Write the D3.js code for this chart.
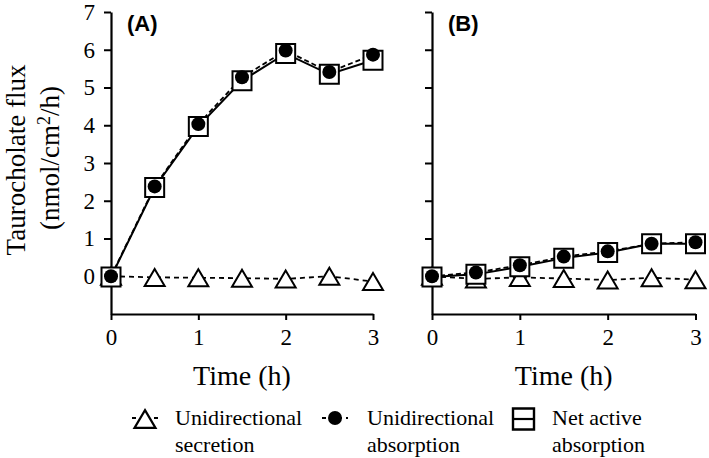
<!DOCTYPE html>
<html><head><meta charset="utf-8">
<script src="https://cdn.jsdelivr.net/npm/d3@7"></script>
<style>body{margin:0;background:#fff}svg{display:block}</style>
</head><body>
<script>
const time = [0, 0.5, 1, 1.5, 2, 2.5, 3];
const secretionA = [0, -0.03, -0.04, -0.05, -0.07, 0.0, -0.14];
const absorptionA = [0, 2.38, 4.03, 5.27, 5.98, 5.41, 5.87];
const netA = [-0.02, 2.35, 3.97, 5.18, 5.9, 5.35, 5.72];
const secretionB = [0, -0.07, -0.03, -0.06, -0.1, -0.04, -0.09];
const absorptionB = [0, 0.1, 0.29, 0.52, 0.66, 0.86, 0.9];
const netB = [-0.02, 0.05, 0.25, 0.48, 0.63, 0.86, 0.86];
const xTicks = [0, 1, 2, 3];
const yTicks = [0, 1, 2, 3, 4, 5, 6, 7];
const panelLabels = ["(A)", "(B)"];
const legendLabels = [["Unidirectional", "secretion"], ["Unidirectional", "absorption"], ["Net active", "absorption"]];

const W = 709, H = 458;
const SERIF = "Liberation Serif", SANS = "Liberation Sans";
const svg = d3.select("body").append("svg").attr("width", W).attr("height", H);
svg.append("rect").attr("width", W).attr("height", H).attr("fill", "#fff");

const y = d3.scaleLinear().domain([-1, 7]).range([314, 12]);

const triPath = (s) => { const h = s * 0.85; return `M0,${-h/2}L${s/2},${h/2}L${-s/2},${h/2}Z`; };
const sqPath = (s) => `M${-s/2},${-s/2}h${s}v${s}h${-s}Z`;

function panel(x0, x1, sec, abs, net, label, showLabels) {
  const x = d3.scaleLinear().domain([0, 3]).range([x0, x1]);
  const g = svg.append("g");
  const xa = g.append("g").attr("transform", `translate(0,${y(-1)})`)
    .call(d3.axisBottom(x).tickValues(xTicks).tickSize(6).tickSizeOuter(0).tickPadding(9).tickFormat(d3.format("d")));
  const ya = g.append("g").attr("transform", `translate(${x0},0)`)
    .call(d3.axisLeft(y).tickValues(yTicks).tickSize(7).tickSizeOuter(0).tickPadding(9)
      .tickFormat(showLabels ? d3.format("d") : () => ""));
  [xa, ya].forEach(a => {
    a.attr("font-family", SERIF).attr("font-size", 23);
    a.select(".domain").attr("stroke-width", 2.2).attr("stroke", "#000");
    a.selectAll(".tick line").attr("stroke-width", 2).attr("stroke", "#000");
    a.selectAll(".tick text").attr("font-family", SERIF).attr("font-size", 23).attr("fill", "#000");
  });
  const line = d3.line().x((d, i) => x(time[i])).y(d => y(d));
  g.append("path").attr("d", line(sec)).attr("fill", "none").attr("stroke", "#000").attr("stroke-width", 1.8).attr("stroke-dasharray", "5,4");
  g.append("path").attr("d", line(net)).attr("fill", "none").attr("stroke", "#000").attr("stroke-width", 2);
  g.append("path").attr("d", line(abs)).attr("fill", "none").attr("stroke", "#000").attr("stroke-width", 1.8).attr("stroke-dasharray", "5,3");
  g.selectAll(".tri").data(sec).join("path").attr("d", triPath(20))
    .attr("transform", (d, i) => `translate(${x(time[i])},${y(d)})`)
    .attr("fill", "#fff").attr("stroke", "#000").attr("stroke-width", 2);
  g.selectAll(".sq").data(net).join("path").attr("d", sqPath(19))
    .attr("transform", (d, i) => `translate(${x(time[i])},${y(d)})`)
    .attr("fill", "#fff").attr("stroke", "#000").attr("stroke-width", 2);
  g.selectAll(".ci").data(abs).join("circle").attr("r", 7)
    .attr("cx", (d, i) => x(time[i])).attr("cy", d => y(d)).attr("fill", "#000");
  g.append("text").attr("x", x0 + 16).attr("y", 31).attr("font-family", SANS).attr("font-weight", "bold")
    .attr("font-size", 22).text(label);
  g.append("text").attr("x", (x0 + x1) / 2).attr("y", 385).attr("text-anchor", "middle")
    .attr("font-family", SERIF).attr("font-size", 28).text("Time (h)");
}
panel(111, 373, secretionA, absorptionA, netA, panelLabels[0], true);
panel(432, 695.5, secretionB, absorptionB, netB, panelLabels[1], false);

// y title
svg.append("text").attr("transform", "translate(25,160) rotate(-90)").attr("text-anchor", "middle")
  .attr("font-family", SERIF).attr("font-size", 27).text("Taurocholate flux");
const t2 = svg.append("text").attr("transform", "translate(59,158) rotate(-90)").attr("text-anchor", "middle")
  .attr("font-family", SERIF).attr("font-size", 27);
t2.append("tspan").text("(nmol/cm");
t2.append("tspan").attr("dy", -9).attr("font-size", 18).text("2");
t2.append("tspan").attr("dy", 9).text("/h)");

// legend
const legX = [145, 335, 523.5], legTX = [175, 367, 552], legY = 418;
const lg = svg.append("g");
lg.append("path").attr("d", `M${legX[0]-13},${legY}h26`).attr("stroke", "#000").attr("stroke-width", 2).attr("stroke-dasharray", "4,18");
lg.append("path").attr("d", triPath(21)).attr("transform", `translate(${legX[0]},${legY+1})`).attr("fill", "#fff").attr("stroke", "#000").attr("stroke-width", 2.2);
lg.append("path").attr("d", `M${legX[0]+9},${legY}h4`).attr("stroke", "#000").attr("stroke-width", 2);
lg.append("path").attr("d", `M${legX[1]-13},${legY}h26`).attr("stroke", "#000").attr("stroke-width", 2).attr("stroke-dasharray", "4,4");
lg.append("circle").attr("cx", legX[1]).attr("cy", legY).attr("r", 7).attr("fill", "#000");
lg.append("path").attr("d", sqPath(21)).attr("transform", `translate(${legX[2]},${legY+1})`).attr("fill", "#fff").attr("stroke", "#000").attr("stroke-width", 2.4);
lg.append("path").attr("d", `M${legX[2]-10.5},${legY+1}h21`).attr("stroke", "#000").attr("stroke-width", 2.2);
legendLabels.forEach((lines, i) => {
  lines.forEach((t, j) => {
    lg.append("text").attr("x", legTX[i]).attr("y", 425 + j * 27).attr("font-family", SERIF).attr("font-size", 22).text(t);
  });
});
</script>
</body></html>
